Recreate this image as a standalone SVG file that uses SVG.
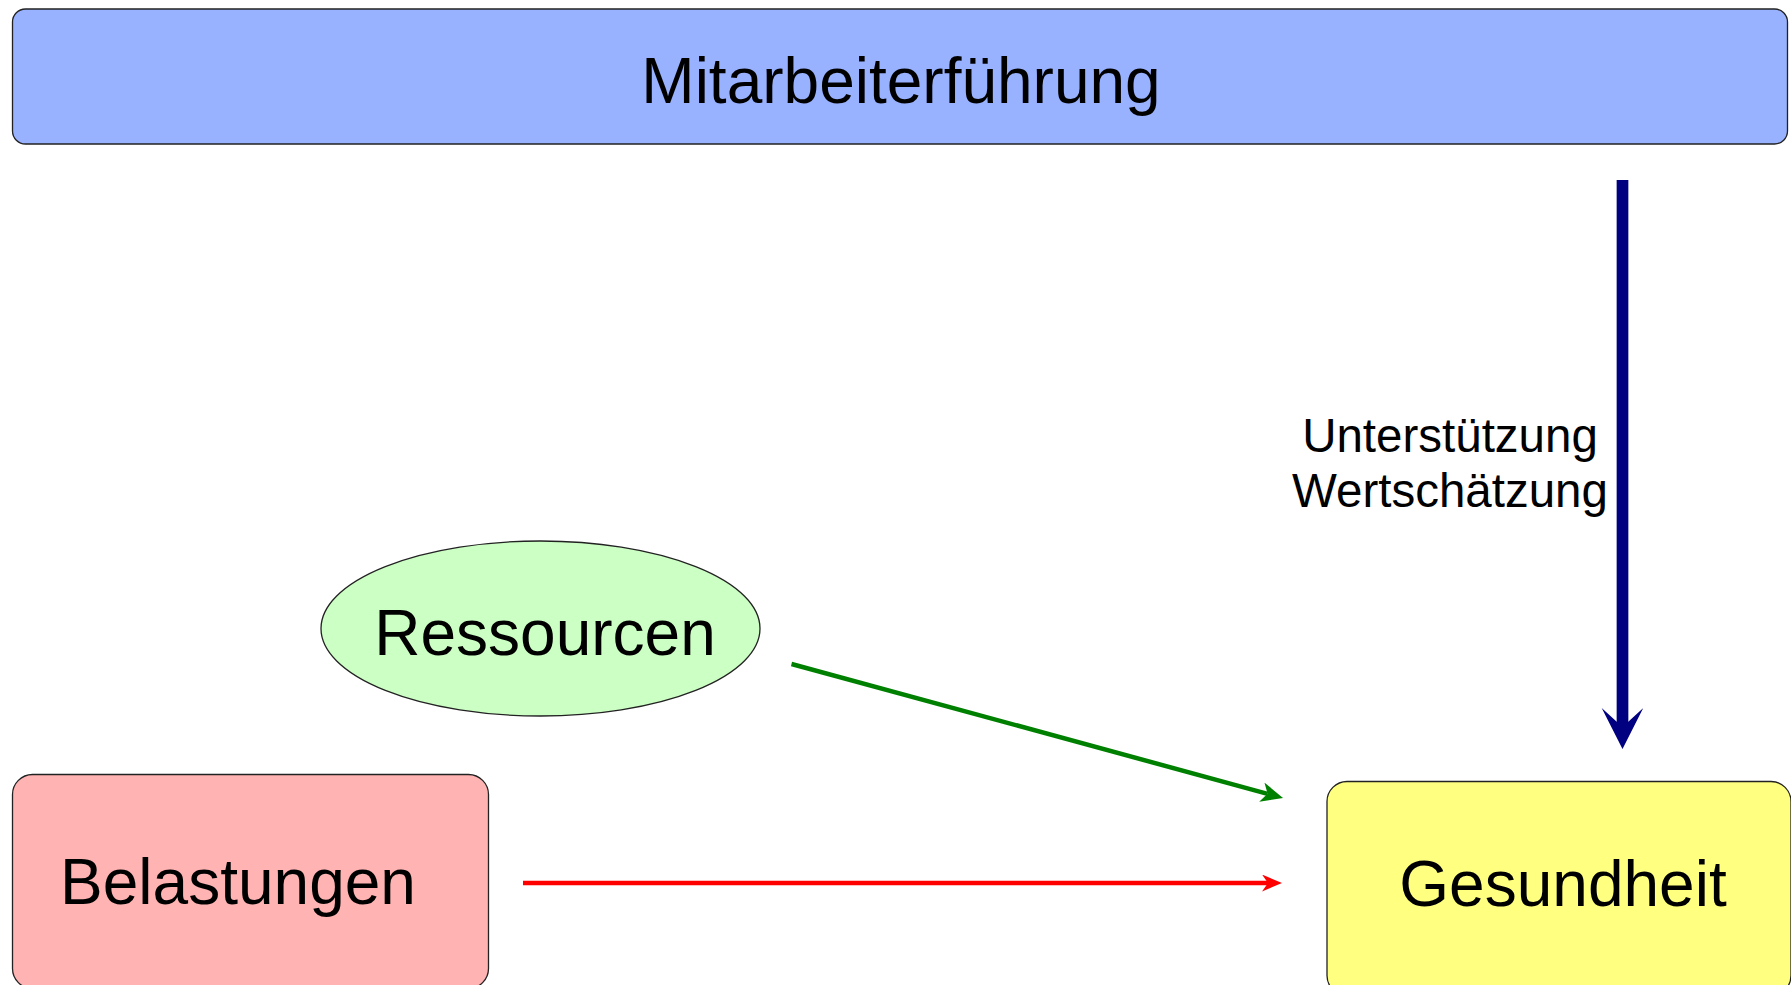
<svg xmlns="http://www.w3.org/2000/svg" width="1791" height="985" viewBox="0 0 1791 985">
<style>
.node{stroke:#222;stroke-width:1.3}
.t{font-family:"Liberation Sans",Arial,sans-serif;fill:#000;text-anchor:middle}
.big{font-size:64px}
.lbl{font-size:47.5px}
</style>
<defs>
<marker id="hr" markerUnits="userSpaceOnUse" markerWidth="22" markerHeight="18" refX="6" refY="8.5" orient="auto" viewBox="0 0 22 18">
<path d="M0,0 L20,8.5 L0,17 L6,8.5 Z" fill="#ff0000"/>
</marker>
<marker id="hg" markerUnits="userSpaceOnUse" markerWidth="22" markerHeight="22" refX="6" refY="10" orient="auto" viewBox="0 0 22 22">
<path d="M0,0 L22,10 L0,20 L6,10 Z" fill="#008000"/>
</marker>
<marker id="hb" markerUnits="userSpaceOnUse" markerWidth="42" markerHeight="42" refX="19" refY="20.8" orient="auto" viewBox="0 0 42 42">
<path d="M0,0 L41,20.8 L0,41.6 L19,20.8 Z" fill="#000080"/>
</marker>
</defs>
<rect width="1791" height="985" fill="#ffffff"/>
<g id="mitarbeiterfuehrung">
<rect class="node" x="12.5" y="9" width="1775" height="135" rx="13" fill="#99b2ff"/>
<text class="t big" x="901" y="103">Mitarbeiterführung</text>
</g>
<g id="ressourcen">
<ellipse class="node" cx="540.5" cy="628.5" rx="219.5" ry="87.5" fill="#ccffc4"/>
<text class="t big" x="545" y="655">Ressourcen</text>
</g>
<g id="belastungen">
<rect class="node" x="12.5" y="774.5" width="476" height="214" rx="20" fill="#ffb3b3"/>
<text class="t big" x="238" y="904">Belastungen</text>
</g>
<g id="gesundheit">
<rect class="node" x="1327" y="781.5" width="464" height="214" rx="20" fill="#ffff80"/>
<text class="t big" x="1563" y="906">Gesundheit</text>
</g>
<g id="connectors">
<line x1="1622.5" y1="180" x2="1622.5" y2="727" stroke="#000080" stroke-width="11.7" marker-end="url(#hb)"/>
<text class="t lbl" x="1450" y="452">Unterstützung</text>
<text class="t lbl" x="1450" y="507">Wertschätzung</text>
<line x1="791.5" y1="664" x2="1267.6" y2="793.8" stroke="#008000" stroke-width="4.5" marker-end="url(#hg)"/>
<line x1="523" y1="883" x2="1268" y2="883" stroke="#ff0000" stroke-width="4.5" marker-end="url(#hr)"/>
</g>
</svg>
